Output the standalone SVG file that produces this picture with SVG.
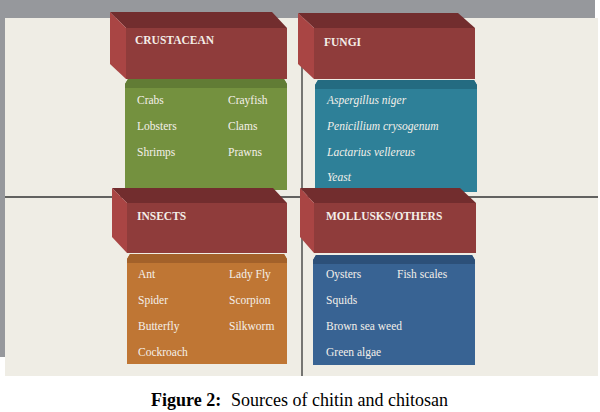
<svg xmlns="http://www.w3.org/2000/svg" width="600" height="412" viewBox="0 0 600 412">
<style>
.top{fill:#722d2e}
.front{fill:#8f3c3b}
.side{fill:#a94544}
.hd{font-family:"Liberation Serif",serif;font-weight:bold;font-size:11.5px;fill:#f4eee8}
.it{font-family:"Liberation Serif",serif;font-size:11.5px;fill:#f4f0ea}
.itl{font-style:italic}
.ln{stroke:#333;stroke-width:1.3;fill:none}
.cap{font-family:"Liberation Serif",serif;font-size:18px;fill:#000}
</style>
<rect x="0" y="0" width="600" height="412" fill="#fff"/>
<rect x="0" y="0" width="595" height="19" fill="#96989c"/>
<rect x="0" y="0" width="5" height="357" fill="#96989c"/>
<rect x="5" y="18" width="593" height="358" fill="#efede5"/>
<g id="connectors">
<line class="ln" x1="5" y1="197" x2="598" y2="197"/>
<line class="ln" x1="302" y1="18" x2="302" y2="376"/>
</g>
<g id="crustacean">
<path d="M125,84 L128,79 L284,79 L287,84 L287,190 L125,190 Z" fill="#74913f"/>
<path d="M125,84 L128,79 L284,79 L287,84 L287,88 L125,88 Z" fill="#617c35"/>
<polygon class="top" points="110,12 272,12 287,28 126,28"/>
<rect class="front" x="126" y="28" width="161" height="51"/>
<polygon class="side" points="110,12 126,28 126,79 110,64"/>
<text class="hd" x="135" y="44">CRUSTACEAN</text>
<text class="it" x="137" y="104">Crabs</text>
<text class="it" x="228" y="104">Crayfish</text>
<text class="it" x="137" y="130">Lobsters</text>
<text class="it" x="228" y="130">Clams</text>
<text class="it" x="137" y="156">Shrimps</text>
<text class="it" x="228" y="156">Prawns</text>
</g>
<g id="fungi">
<path d="M315,85 L318,80 L474,80 L477,85 L477,192 L315,192 Z" fill="#2e8098"/>
<path d="M315,85 L318,80 L474,80 L477,85 L477,89 L315,89 Z" fill="#246b81"/>
<polygon class="top" points="298,13 458,13 475,28 314,28"/>
<rect class="front" x="314" y="28" width="161" height="51"/>
<polygon class="side" points="298,13 314,28 314,79 298,64"/>
<text class="hd" x="324" y="46">FUNGI</text>
<text class="it itl" x="327" y="104">Aspergillus niger</text>
<text class="it itl" x="327" y="130">Penicillium crysogenum</text>
<text class="it itl" x="327" y="156">Lactarius vellereus</text>
<text class="it itl" x="327" y="181">Yeast</text>
</g>
<g id="insects">
<path d="M127,259 L130,254 L284,254 L287,259 L287,364 L127,364 Z" fill="#bf7634"/>
<path d="M127,259 L130,254 L284,254 L287,259 L287,263 L127,263 Z" fill="#a3612a"/>
<polygon class="top" points="112,188 273,188 287,203 127,203"/>
<rect class="front" x="127" y="203" width="160" height="50"/>
<polygon class="side" points="112,188 127,203 127,253 112,237"/>
<text class="hd" x="137" y="220">INSECTS</text>
<text class="it" x="138" y="278">Ant</text>
<text class="it" x="229" y="278">Lady Fly</text>
<text class="it" x="138" y="304">Spider</text>
<text class="it" x="229" y="304">Scorpion</text>
<text class="it" x="138" y="330">Butterfly</text>
<text class="it" x="229" y="330">Silkworm</text>
<text class="it" x="138" y="356">Cockroach</text>
</g>
<g id="mollusks">
<path d="M313,260 L316,255 L472,255 L475,260 L475,365 L313,365 Z" fill="#386393"/>
<path d="M313,260 L316,255 L472,255 L475,260 L475,264 L313,264 Z" fill="#2c5079"/>
<polygon class="top" points="300,188 460,188 476,203 314,203"/>
<rect class="front" x="314" y="203" width="162" height="50"/>
<polygon class="side" points="300,188 314,203 314,253 300,237"/>
<text class="hd" x="326" y="220">MOLLUSKS/OTHERS</text>
<text class="it" x="326" y="278">Oysters</text>
<text class="it" x="397" y="278">Fish scales</text>
<text class="it" x="326" y="304">Squids</text>
<text class="it" x="326" y="330">Brown sea weed</text>
<text class="it" x="326" y="356">Green algae</text>
</g>
<text class="cap" x="151" y="406"><tspan font-weight="bold">Figure 2:</tspan><tspan x="231">Sources of chitin and chitosan</tspan></text>
</svg>
